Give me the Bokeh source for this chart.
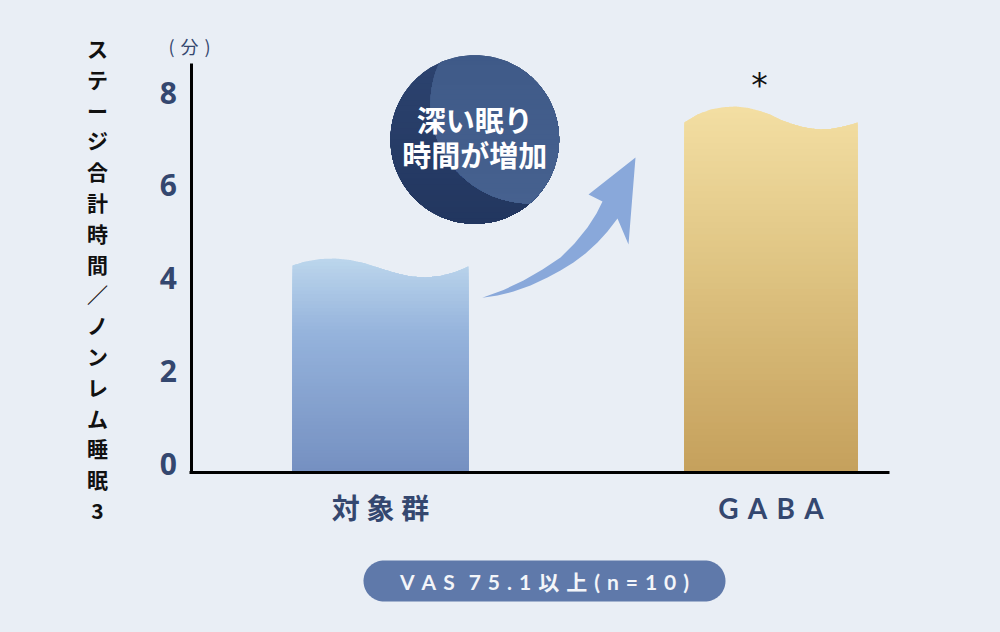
import numpy as np
from bokeh.plotting import figure
from bokeh.models import FixedTicker, Label, LinearAxis, Range1d
from bokeh.embed import file_html
from bokeh.resources import INLINE

# ---- data -------------------------------------------------------------
categories = ["対 象 群", "G\u2004A\u2004B\u2004A"]
category_pos = [1, 2]
y_ticks = [0, 2, 4, 6, 8]
y_label = "ス\nテ\nー\nジ\n合\n計\n時\n間\n／\nノ\nン\nレ\nム\n睡\n眠\n3"
unit_label = "(\u2004分\u2004)"
callout = "深い眠り\n時間が増加"
note = "V\u2004A\u2004S\u2004\u20047\u20045\u2004.\u20041\u2004以\u2004上\u2004(\u2004n\u2004=\u20041\u20040\u2004)"

# top edge of each wavy bar: offset from the category centre, value in minutes
control_dx = [-0.225, -0.192, -0.154, -0.115, -0.077, -0.038, 0.0, 0.038, 0.077, 0.115, 0.154, 0.192, 0.225]
control_top = [4.444, 4.531, 4.585, 4.595, 4.563, 4.488, 4.380, 4.283, 4.207, 4.186, 4.218, 4.304, 4.423]
gaba_dx = [-0.2215, -0.1882, -0.1549, -0.1216, -0.0909, -0.0576, -0.0269, 0.0, 0.0243, 0.0499, 0.0755,
           0.1012, 0.1268, 0.1524, 0.1780, 0.2036, 0.2215]
gaba_top = [7.530, 7.702, 7.810, 7.860, 7.875, 7.843, 7.776, 7.692, 7.588, 7.508, 7.443,
            7.400, 7.379, 7.390, 7.428, 7.480, 7.530]

# ---- layout -----------------------------------------------------------
BG = "#e9eef5"
W, H = 1000, 632
PX_X, PX_Y = 390.5, 46.35              # pixels per data unit
CX0, BASE = 380, 471                   # page x of category 1, page y of value 0


def X(px):
    return 1 + (np.asarray(px, dtype=float) - CX0) / PX_X


def Y(py):
    return (BASE - np.asarray(py, dtype=float)) / PX_Y


p = figure(width=W, height=H, output_backend="svg", toolbar_location=None,
           x_range=(float(X(0)), float(X(W))), y_range=(float(Y(H)), float(Y(0))),
           x_axis_location=None, y_axis_location=None,
           min_border=0, background_fill_color=BG, border_fill_color=BG, outline_line_color=None)
p.grid.visible = False

CJK = "'Noto Sans CJK JP'"
NAVY = "#34476f"

# value axis line
yline = LinearAxis(fixed_location=float(X(190.5)), bounds=(float(Y(471.5)), float(Y(63))),
                   ticker=FixedTicker(ticks=[]), axis_line_color="#000000", axis_line_width=3)
p.add_layout(yline, "left")
# value labels sit a little above their tick position in the reference: own range, shifted
p.extra_y_ranges = {"labels": Range1d(float(Y(H)) + 8 / PX_Y * -1, float(Y(0)) - 8 / PX_Y)}
ylab = LinearAxis(fixed_location=float(X(190.5)), y_range_name="labels",
                  ticker=FixedTicker(ticks=y_ticks), axis_line_color=None,
                  major_tick_line_color=None, minor_tick_line_color=None,
                  major_label_text_color=NAVY, major_label_text_font_style="bold",
                  major_label_text_font="'Noto Sans'", major_label_text_font_size="30px",
                  major_label_standoff=8)
p.add_layout(ylab, "left")

xax = LinearAxis(fixed_location=float(Y(471.5)), bounds=(float(X(189)), float(X(889))),
                 ticker=FixedTicker(ticks=category_pos),
                 major_label_overrides={c: t for c, t in zip(category_pos, categories)},
                 axis_line_color="#000000", axis_line_width=3,
                 major_tick_line_color=None, minor_tick_line_color=None,
                 major_label_text_color=NAVY, major_label_text_font_style="bold",
                 major_label_text_font="Lato, " + CJK, major_label_text_font_size="28px",
                 major_label_standoff=13)
p.add_layout(xax, "below")


def lerp_stops(stops, t):
    ts = [s[0] for s in stops]
    chans = [np.interp(t, ts, [int(s[1][i:i + 2], 16) for s in stops]) for i in (1, 3, 5)]
    return "#%02x%02x%02x" % tuple(int(round(c)) for c in chans)


def gradient(xs, ys, stops, n=60):
    """Paint a shape top-down: every layer is the shape clamped below a level, so layers overlap."""
    xs, ys = np.asarray(xs, float), np.asarray(ys, float)
    top, bot = ys.max(), ys.min()
    px, py, col = [], [], []
    for i in range(n):
        level = top - (top - bot) * i / n
        px.append(xs.tolist())
        py.append(np.minimum(ys, level).tolist())
        col.append(lerp_stops(stops, (i + 0.5) / n))
    p.patches(px, py, fill_color=col, line_color=None, level="underlay")


def bar(center, dx, tops, stops):
    dx = np.asarray(dx, float)
    fine = np.linspace(dx[0], dx[-1], 240)
    t = np.interp(fine, dx, tops)
    xs = np.concatenate([[fine[0]], fine, [fine[-1]]]) + center
    ys = np.concatenate([[0], t, [0]])
    gradient(xs, ys, stops)


bar(category_pos[0], control_dx, control_top,
    [(0, "#bcd6ec"), (0.35, "#95b3dc"), (1, "#7590c1")])
bar(category_pos[1], gaba_dx, gaba_top,
    [(0, "#f3dfa3"), (0.5, "#dcc07e"), (1, "#c5a05c")])

# arrow (page pixels)
arrow_px = [(481.7, 297.3), (503, 289.5), (523, 280), (542, 269), (560, 257), (574, 243), (587, 227),
            (596, 213), (602, 201), (588, 194), (635, 157),
            (628, 244), (617, 218), (607, 231), (597, 242), (585, 253), (573, 262), (560, 270),
            (547, 277), (530, 285), (513, 291), (497, 295)]
ax_, ay_ = zip(*arrow_px)
p.patch(X(ax_), Y(ay_), fill_color="#89a8da", line_color=None, level="underlay")

# moon badge (page pixels)
ang = np.linspace(0, 2 * np.pi, 240, endpoint=False)
C1 = (474.3, 139.0, 84.3)
C2 = (530.0, 103.0, 100.0)
gradient(X(C1[0] + C1[2] * np.cos(ang)), Y(C1[1] + C1[2] * np.sin(ang)),
         [(0, "#2c436f"), (1, "#22365f")], n=30)
bx, by = C1[0] + C1[2] * np.cos(ang), C1[1] + C1[2] * np.sin(ang)
keep = np.hypot(bx - C2[0], by - C2[1]) <= C2[2]
a2 = np.linspace(0, 2 * np.pi, 480, endpoint=False)
qx, qy = C2[0] + C2[2] * np.cos(a2), C2[1] + C2[2] * np.sin(a2)
keep2 = np.hypot(qx - C1[0], qy - C1[1]) <= C1[2]
pts = np.column_stack([np.concatenate([bx[keep], qx[keep2]]), np.concatenate([by[keep], qy[keep2]])])
inner = pts.mean(axis=0)
pts = pts[np.argsort(np.arctan2(pts[:, 1] - inner[1], pts[:, 0] - inner[0]))]
gradient(X(pts[:, 0]), Y(pts[:, 1]), [(0, "#3f5a88"), (1, "#46618f")], n=30)

p.add_layout(Label(x=float(X(C1[0])), y=float(Y(136)), text=callout, text_color="#ffffff",
                   text_font=CJK, text_font_style="bold", text_font_size="29px",
                   text_align="center", text_baseline="middle", text_line_height=0.834))

# significance mark
p.add_layout(Label(x=float(X(759)), y=float(Y(85)), text="*", text_color="#111111",
                   text_font="'DejaVu Sans'", text_font_size="33px",
                   text_align="center", text_baseline="middle"))

# vertical axis title and unit
p.add_layout(Label(x=float(X(97)), y=float(Y(278.5)), text=y_label, text_color="#111111",
                   text_font=CJK, text_font_style="bold", text_font_size="21px",
                   text_align="center", text_baseline="middle", text_line_height=1.027))
p.add_layout(Label(x=float(X(189)), y=float(Y(45)), text=unit_label, text_color=NAVY,
                   text_font=CJK, text_font_size="18px",
                   text_align="center", text_baseline="middle"))

# rounded pill with the condition
PL, PR, PT, PB = 363, 725, 560, 601
r = (PB - PT) / 2
t = np.linspace(-np.pi / 2, np.pi / 2, 40)
pill_x = np.concatenate([PR - r + r * np.cos(t), PL + r - r * np.cos(t)])
pill_y = np.concatenate([PT + r + r * np.sin(t), PT + r - r * np.sin(t)])
p.patch(X(pill_x), Y(pill_y), fill_color="#5f79aa", line_color=None, level="underlay")
p.add_layout(Label(x=float(X((PL + PR) / 2)), y=float(Y(581)), text=note, text_color="#f3f5f9",
                   text_font="Lato, " + CJK, text_font_style="bold", text_font_size="21px",
                   text_align="center", text_baseline="middle"))

html = file_html(p, INLINE)
html = html.replace("<head>", "<head><style>html,body{background:%s;}</style>" % BG, 1)
open("out.html", "w").write(html)
